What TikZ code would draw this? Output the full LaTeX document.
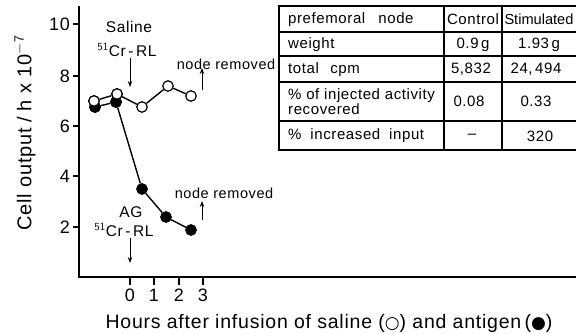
\documentclass[tikz,border=0pt]{standalone}
\usepackage{fontspec}
\setmainfont[LetterSpace=4]{Liberation Sans}
\newfontfamily\tightfont{Liberation Sans}
\newfontfamily\symfont{DejaVu Sans}
\usetikzlibrary{arrows.meta}
\begin{document}
\begin{tikzpicture}[x=1pt,y=-1pt,
  axis/.style={line width=1.8pt},
  dline/.style={line width=1.4pt},
  opn/.style={circle,draw,line width=1.2pt,fill=white,minimum size=10.5pt,inner sep=0pt},
  fil/.style={circle,draw,line width=1.2pt,fill=black,minimum size=10.5pt,inner sep=0pt},
  lbl/.style={font=\fontsize{15.5}{17}\selectfont,inner sep=0pt},
  small/.style={font=\fontsize{14.5}{16}\selectfont,inner sep=0pt},
  tick/.style={font=\fontsize{18}{19}\selectfont,inner sep=0pt},
  tbl/.style={font=\fontsize{15}{15}\selectfont,inner sep=0pt},
  big/.style={font=\fontsize{19.5}{21}\selectfont,inner sep=0pt},
  tline/.style={line width=1.1pt},
  arr/.style={line width=1pt,-{Stealth[length=6pt,width=4.5pt]}}
]
\useasboundingbox (0,0) rectangle (576,334);

% axes
\coordinate (o) at (79,277);
\coordinate (ytop) at (79,6);
\coordinate (xend) at (577,277);
\draw[axis] (ytop) -- (o) -- (xend);

% y ticks
\foreach \v/\yy in {10/24,8/76,6/126,4/176,2/227}{
  \draw[line width=1.2pt] (73,\yy) -- (79,\yy);
  \node[tick,anchor=east] (yt\v) at (70,\yy) {\v};
}
% x ticks
\foreach \h/\xx in {0/130,1/154,2/179,3/203}{
  \draw[line width=1.2pt] (\xx,277) -- (\xx,285);
  \node[tick,anchor=north] (xt\h) at (\xx,289) {\h};
}

% axis labels
\node[big,rotate=90,font=\fontsize{20}{21}\selectfont] (ylab) at (25,133)
  {Cell output\;/\;h x 10$^{\mathsf{-7}}$};
\node[big] (xlab) at (329,323)
  {Hours after infusion of saline ({\symfont\fontsize{17}{14}\selectfont ○}) and antigen\,({\symfont\fontsize{17}{14}\selectfont ●})};

% filled series (antigen)
\node[fil] (f1) at (95,107) {};
\node[fil] (f2) at (116,102) {};
\node[fil] (f3) at (142,189) {};
\node[fil] (f4) at (166,217) {};
\node[fil] (f5) at (191,230) {};
% open series (saline)
\node[opn] (s1) at (94,101) {};
\node[opn] (s2) at (117,94) {};
\node[opn] (s3) at (142,107) {};
\node[opn] (s4) at (168,86) {};
\node[opn] (s5) at (191,96) {};
\draw[dline] (f1) -- (f2) -- (f3) -- (f4) -- (f5);
\draw[dline] (s1) -- (s2) -- (s3) -- (s4) -- (s5);
% redraw nodes on top
\node[fil] at (95,107) {};
\node[opn] at (94,101) {};
\node[fil] at (116,102) {};
\node[opn] at (117,94) {};

% saline annotation
\node[lbl] (sal) at (129,27) {Saline};
\node[lbl] (salcr) at (127,50) {$^{\mathsf{51}}$Cr\,-\,RL};
\coordinate (sa1) at (130,58);
\coordinate (sa2) at (130,87);
\draw[arr] (sa1) -- (sa2);
\node[small] (nr1) at (226,64) {node removed};
\coordinate (na1) at (202,90);
\coordinate (na2) at (202,68);
\draw[arr] (na1) -- (na2);

% antigen annotation
\node[lbl] (ag) at (131,212) {AG};
\node[lbl] (agcr) at (124,230) {$^{\mathsf{51}}$Cr\,-\,RL};
\coordinate (aa1) at (130,238);
\coordinate (aa2) at (130,263);
\draw[arr] (aa1) -- (aa2);
\node[small] (nr2) at (224,193) {node removed};
\coordinate (nb1) at (202,220);
\coordinate (nb2) at (202,201);
\draw[arr] (nb1) -- (nb2);

% table
\draw[tline] (579,6) -- (279,6) -- (279,150) -- (579,150);
\foreach \yy in {32,56,82,121}{ \draw[tline] (279,\yy) -- (579,\yy); }
\draw[tline] (444,6) -- (444,150);
\draw[tline] (502,6) -- (502,150);

\node[tbl,anchor=west] (r1a) at (288,19.5) {prefemoral\;\; node};
\node[tbl] (r1b) at (473,19.5) {Control};
\node[tbl,anchor=west,font=\tightfont\fontsize{14.6}{15}\selectfont] (r1c) at (504.3,19.5) {Stimulated};
\node[tbl,anchor=west] (r2a) at (288,44.5) {weight};
\node[tbl] (r2b) at (473,44.5) {0.9\,g};
\node[tbl] (r2c) at (539,44.5) {1.93\,g};
\node[tbl,anchor=west] (r3a) at (288,69.5) {total\;\, cpm};
\node[tbl] (r3b) at (471,69.5) {5,832};
\node[tbl] (r3c) at (536,69.5) {24,\,494};
\node[tbl,anchor=west,align=left,font=\fontsize{15}{12.5}\selectfont] (r4a) at (288,101.5) {\% of injected activity\\recovered};
\node[tbl] (r4b) at (469,101.5) {0.08};
\node[tbl] (r4c) at (536,101.5) {0.33};
\node[tbl,anchor=west] (r5a) at (288,136) {\%\; increased\; input};
\node[tbl] (r5b) at (472,136) {--};
\node[tbl] (r5c) at (540,136) {320};
\end{tikzpicture}
\end{document}
